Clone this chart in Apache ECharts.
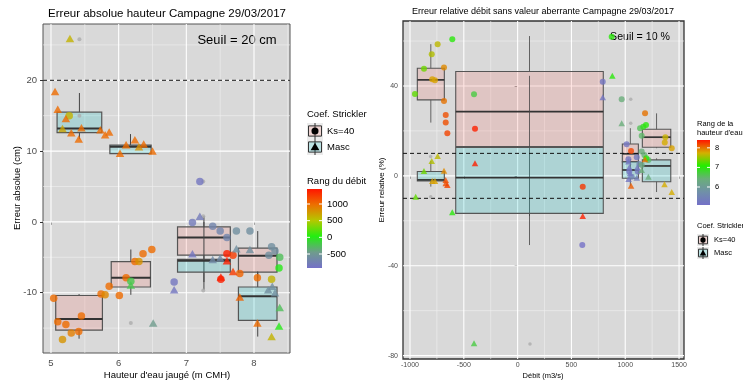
<!DOCTYPE html>
<html>
<head>
<meta charset="utf-8">
<script src="https://cdn.jsdelivr.net/npm/echarts@6/dist/echarts.min.js"></script>
<style>
  html, body { margin: 0; padding: 0; background: #ffffff; }
  #chart { width: 743px; height: 382px; }
</style>
</head>
<body>
<div id="chart"></div>
<script>
// ---------- Left panel: water height (m CMH) vs absolute error (cm), colour = discharge rank ----------
const hTicks = [5, 6, 7, 8];
const hMinor = [5.5, 6.5, 7.5, 8.5];
const errAbsTicks = [20, 10, 0, -10];
const errAbsMinor = [25, 15, 5, -5, -15];
const errAbsThreshold = [20];

// boxes: [xmin, xmax, lower whisker, q1, median, q3, upper whisker]
const hBoxKs40 = [
  [5.07, 5.76, -16.5, -15.3, -13.7, -10.4, -10.2],
  [5.89, 6.47, -10.3, -9.2, -7.9, -5.6, -3.9],
  [6.87, 7.65, -8.5, -4.7, -2.2, -0.7, 0.0],
  [7.77, 8.34, -7.9, -7.1, -4.8, -3.7, -1.3]
];
const hBoxMasc = [
  [5.09, 5.75, 11.7, 12.6, 13.2, 15.5, 18.2],
  [5.87, 6.48, 9.6, 9.65, 10.6, 10.85, 12.4],
  [6.87, 7.65, -9.6, -7.1, -5.5, -5.3, 0.8],
  [7.77, 8.34, -16.2, -13.9, -10.5, -9.2, -7.0]
];

// points: [height, error, discharge rank]
const hPtsKs40 = [
  [5.04, -10.8, 1000], [5.10, -14.1, 1000], [5.22, -14.5, 1000], [5.17, -16.6, 790],
  [5.30, -15.7, 900], [5.41, -15.5, 1000], [5.45, -13.3, 1000], [5.74, -10.2, 1000],
  [5.80, -10.3, 850], [5.86, -9.1, 1000], [6.01, -10.4, 1000], [6.11, -7.9, 1000],
  [6.18, -8.4, -200], [6.24, -5.6, 1000], [6.30, -5.6, 800], [6.36, -4.5, 1000],
  [6.49, -3.9, 1000], [5.27, 15.0, 620], [7.20, 5.7, -850], [6.82, -8.5, -850],
  [7.09, -0.1, -800], [7.39, -0.6, -700], [7.50, -1.3, -700], [7.60, -2.2, -700],
  [7.74, -1.3, -600], [7.94, -1.3, -600], [7.60, -4.5, 1400], [7.69, -4.7, 1250],
  [7.51, -8.1, 1400], [7.79, -7.3, 1050], [8.05, -7.9, 1000], [8.26, -8.1, 620],
  [8.26, -3.5, -600], [8.31, -4.1, -600], [8.22, -4.7, -600], [8.38, -5.0, -250],
  [8.37, -6.5, 0]
];
const hPtsMasc = [
  [5.28, 25.9, 620], [5.06, 18.4, 1000], [5.10, 15.9, 1000], [5.22, 14.6, 1000],
  [5.17, 13.2, 700], [5.30, 12.6, 1000], [5.45, 13.3, 1000], [5.41, 11.7, 1000],
  [5.73, 13.0, 1000], [5.80, 12.3, 1000], [5.86, 12.7, 1000], [6.02, 9.7, 1000],
  [6.11, 10.9, 1000], [6.24, 11.6, 1000], [6.30, 10.6, 800], [6.37, 11.0, 1000],
  [6.50, 10.0, 1000], [6.18, -8.9, -200], [6.51, -14.3, -450], [6.82, -9.6, -850],
  [7.20, 0.8, -800], [7.09, -4.5, -850], [7.39, -5.3, -650], [7.50, -5.1, -650],
  [7.60, -5.5, 1400], [7.69, -7.0, 1250], [7.51, -7.8, 1400], [7.74, -3.8, -600],
  [7.94, -3.9, -600], [8.21, -9.6, -600], [8.31, -10.0, -600], [8.27, -9.1, -600],
  [7.79, -10.6, 1050], [8.38, -12.1, -250], [8.05, -14.3, 1000], [8.37, -14.7, 0],
  [8.26, -16.2, 620]
];
// points without a discharge rank
const hPtsNA = [[5.42, 25.8], [5.42, 15.0], [6.18, -14.3], [7.25, 5.7], [7.25, 0.8], [7.25, -9.7]];

// ---------- Right panel: discharge (m3/s) vs relative error (%), colour = water height rank ----------
const qTicks = [-1000, -500, 0, 500, 1000, 1500];
const qMinor = [-750, -250, 250, 750, 1250];
const errRelTicks = [40, 0, -40, -80];
const errRelMinor = [60, 20, -20, -60];
const errRelThreshold = [10, -10];

const qBoxKs40 = [
  [-932, -681, 23.7, 33.8, 42.7, 47.9, 58.6],
  [-575, 796, -30.8, 13.0, 28.6, 46.4, 62.2],
  [973, 1122, 1.9, 6.2, 9.8, 14.2, 21.2],
  [1159, 1423, 12.3, 12.7, 17.2, 20.7, 27.8]
];
const qBoxMasc = [
  [-932, -681, -4.8, -2.3, -1.8, 1.9, 6.6],
  [-575, 796, -17.9, -16.7, -0.8, 12.6, 44.5],
  [973, 1122, -4.4, -1.1, 2.6, 6.4, 7.4],
  [1159, 1423, -7.2, -2.6, 4.4, 7.1, 7.8]
];

// points: [discharge, error, water height rank]
const qPtsKs40 = [
  [-607, 60.8, 7.0], [-743, 58.6, 7.65], [-798, 54.1, 7.6], [-870, 47.6, 7.35],
  [-684, 48.2, 7.9], [-793, 43.0, 7.8], [-768, 42.5, 7.8], [-954, 36.4, 7.3],
  [-684, 33.3, 8.0], [-668, 27.1, 8.15], [-668, 23.7, 8.15], [-653, 19.0, 8.2],
  [-405, 36.3, 6.7], [-396, 20.9, 8.35], [605, -4.8, 8.25], [601, -30.8, 5.1],
  [791, 41.9, 5.2], [874, 61.9, 7.0], [967, 34.1, 6.4], [1184, 27.8, 8.0],
  [1138, 21.2, 6.6], [1168, 21.9, 6.9], [1193, 22.6, 7.0], [1153, 17.8, 6.5],
  [1373, 17.2, 7.7], [1367, 14.8, 7.75], [1432, 12.3, 7.8], [1013, 14.1, 5.2],
  [1054, 11.1, 8.2], [1029, 7.4, 5.2], [1107, 8.3, 5.3], [1131, 5.3, 5.6],
  [1038, 1.9, 5.2], [1116, 1.9, 5.3], [1060, -0.4, 5.5], [1153, 10.8, 6.4],
  [1178, 9.3, 6.4], [1215, 7.1, 6.5], [1153, 4.8, 6.3], [1195, 7.8, 7.0]
];
const qPtsMasc = [
  [-743, 8.8, 7.65], [-798, 6.6, 7.6], [-870, 2.2, 7.35], [-684, 2.3, 7.9],
  [-793, -2.3, 7.8], [-768, -2.3, 7.8], [-947, -9.3, 7.3], [-668, -1.8, 8.15],
  [-668, -3.3, 8.15], [-653, -4.1, 8.2], [-607, -16.2, 7.0], [-405, -74.5, 6.7],
  [-396, 5.6, 8.35], [605, -17.9, 8.35], [791, 35.0, 5.2], [880, 44.5, 7.0],
  [967, 23.4, 6.4], [1054, -4.4, 8.1], [1365, -3.7, 7.75], [1432, -7.2, 7.75],
  [1029, 6.4, 5.2], [1038, 3.8, 5.2], [1112, 3.8, 5.3], [1045, 1.1, 5.2],
  [1107, -0.8, 5.4], [1031, -1.4, 5.2], [1153, 2.6, 6.4], [1215, -0.4, 6.4],
  [1184, 7.4, 8.0]
];
const qPtsNA = [[-808, 8.6], [-808, -9.3], [115, -74.8], [1051, 34.1], [1051, 23.4]];

// colour scales (evenly spaced stops from min to max)
const debitScale = { min: -920, max: 1450, labels: [1000, 500, 0, -500],
  colors: ['#7470c8', '#6f9c8c', '#22ee11', '#b4c800', '#ec7000', '#ff1500'] };
const hauteurScale = { min: 5.08, max: 8.4, labels: [8, 7, 6],
  colors: ['#7470c8', '#7090a8', '#6aae7a', '#22ee00', '#d4b000', '#ff1500'] };

// ---------- drawing ----------
const FONT = 'Liberation Sans, Arial, sans-serif';
const hRange = [4.882, 8.532], errAbsRange = [-18.52, 27.95];
const qRange = [-1065, 1546], errRelRange = [-81.5, 68.9];

const KS_FILL = 'rgba(248,118,109,0.2)';
const MASC_FILL = 'rgba(0,191,196,0.2)';

const vLines = (vals, yr) => vals.map(v => [v, yr[0], v, yr[1]]);
const hLines = (vals, xr) => vals.map(v => [xr[0], v, xr[1], v]);

function segSeries(gi, data, style, z) {
  return {
    type: 'custom', xAxisIndex: gi, yAxisIndex: gi, z: z, silent: true,
    encode: { x: [0, 2], y: [1, 3] }, data: data,
    renderItem: (p, api) => {
      const a = api.coord([api.value(0), api.value(1)]);
      const b = api.coord([api.value(2), api.value(3)]);
      return { type: 'line', shape: { x1: a[0], y1: a[1], x2: b[0], y2: b[1] },
        style: Object.assign({ fill: null }, style) };
    }
  };
}

function boxSeries(gi, data, fill, z, lw) {
  return {
    type: 'custom', xAxisIndex: gi, yAxisIndex: gi, z: z, silent: true,
    encode: { x: [0, 1], y: [2, 3, 4, 5, 6] }, data: data,
    renderItem: (p, api) => {
      const v = i => api.value(i);
      const x0 = v(0), x1 = v(1), xc = (x0 + x1) / 2;
      const lo = api.coord([xc, v(2)]), q1 = api.coord([xc, v(3)]);
      const q3 = api.coord([xc, v(5)]), hi = api.coord([xc, v(6)]);
      const a = api.coord([x0, v(5)]), b = api.coord([x1, v(3)]);
      const m0 = api.coord([x0, v(4)]), m1 = api.coord([x1, v(4)]);
      const line = (P, Q, w, c) => ({ type: 'line',
        shape: { x1: P[0], y1: P[1], x2: Q[0], y2: Q[1] }, style: { stroke: c, lineWidth: w } });
      return { type: 'group', children: [
        line(lo, q1, lw.whisker, '#444'),
        line(q3, hi, lw.whisker, '#444'),
        { type: 'rect', shape: { x: a[0], y: a[1], width: b[0] - a[0], height: b[1] - a[1] },
          style: { fill: fill, stroke: '#555', lineWidth: lw.box } },
        line(m0, m1, lw.median, '#333')
      ] };
    }
  };
}

function ptSeries(gi, data, symbol, size, z, color) {
  const s = { type: 'scatter', xAxisIndex: gi, yAxisIndex: gi, z: z, symbol: symbol,
    symbolSize: size, data: data, silent: true };
  if (color) s.itemStyle = { color: color };
  return s;
}

const majorStyle = { stroke: '#ffffff', lineWidth: 1.1 };
const minorStyle = { stroke: '#f0f0f0', lineWidth: 0.6 };
const dashStyle = { stroke: '#111', lineWidth: 1, lineDash: [4, 3] };

const series = [
  // left grid lines
  segSeries(0, vLines(hMinor, errAbsRange).concat(hLines(errAbsMinor, hRange)), minorStyle, 1),
  segSeries(0, vLines(hTicks, errAbsRange).concat(hLines(errAbsTicks, hRange)), majorStyle, 1),
  boxSeries(0, hBoxKs40, KS_FILL, 2, { whisker: 1, box: 1.2, median: 2 }),
  boxSeries(0, hBoxMasc, MASC_FILL, 2, { whisker: 1, box: 1.2, median: 2 }),
  segSeries(0, hLines(errAbsThreshold, hRange), dashStyle, 3),
  ptSeries(0, hPtsNA, 'circle', 4, 3, '#ababab'),
  ptSeries(0, hPtsKs40, 'circle', 7.5, 4),       // 6
  ptSeries(0, hPtsMasc, 'triangle', [8.5, 7.5], 4), // 7
  // right grid lines
  segSeries(1, vLines(qMinor, errRelRange).concat(hLines(errRelMinor, qRange)), minorStyle, 1),
  segSeries(1, vLines(qTicks, errRelRange).concat(hLines(errRelTicks, qRange)), majorStyle, 1),
  boxSeries(1, qBoxKs40, KS_FILL, 2, { whisker: 0.8, box: 1.1, median: 1.7 }),
  boxSeries(1, qBoxMasc, MASC_FILL, 2, { whisker: 0.8, box: 1.1, median: 1.7 }),
  segSeries(1, hLines(errRelThreshold, qRange), dashStyle, 3),
  ptSeries(1, qPtsNA, 'circle', 3.5, 3, '#ababab'),
  ptSeries(1, qPtsKs40, 'circle', 6, 4),          // 14
  ptSeries(1, qPtsMasc, 'triangle', [6.5, 6], 4)  // 15
];

function axisPair(gi, range, ticks, fontSize, margin) {
  return {
    gridIndex: gi, type: 'value', min: range[0], max: range[1],
    axisLine: { show: false }, splitLine: { show: false },
    axisTick: { show: true, length: 3, customValues: ticks, lineStyle: { color: '#333', width: 1 } },
    axisLabel: { customValues: ticks, color: '#4d4d4d', fontSize: fontSize, fontFamily: FONT,
      margin: margin, formatter: v => String(v) }
  };
}

// ---------- legends, titles ----------
const graphics = [];
function txt(x, y, text, size, opts) {
  graphics.push(Object.assign({ type: 'text', x: x, y: y, silent: true,
    style: Object.assign({ text: text, fontSize: size, fontFamily: FONT, fill: '#000',
      textAlign: 'left', textVerticalAlign: 'middle' }, (opts && opts.style) || {}) },
    opts && opts.rotation ? { rotation: opts.rotation } : {}));
}
function center(x, y, text, size, color) { txt(x, y, text, size, { style: { textAlign: 'center', fill: color || '#000' } }); }

center(167, 14, 'Erreur absolue hauteur Campagne 29/03/2017', 11.5);
center(543, 12, 'Erreur relative débit sans valeur aberrante Campagne 29/03/2017', 9);
center(237, 40, 'Seuil = 20 cm', 13);
center(640, 37, 'Seuil = 10 %', 10.6);
center(167, 375, "Hauteur d'eau jaugé (m CMH)", 9.5);
center(543, 376, 'Débit (m3/s)', 7.5);
txt(17, 188, 'Erreur absolue (cm)', 9.5, { rotation: Math.PI / 2, style: { textAlign: 'center' } });
txt(382, 190, 'Erreur relative (%)', 8, { rotation: Math.PI / 2, style: { textAlign: 'center' } });

function legendKey(x, y, s, fill, shape, labelX, label, fs) {
  graphics.push({ type: 'rect', silent: true, shape: { x: x, y: y - s / 2, width: s, height: s },
    style: { fill: '#ebebeb' } });
  graphics.push({ type: 'line', silent: true, shape: { x1: x + s / 2, y1: y - s / 2, x2: x + s / 2, y2: y + s / 2 },
    style: { stroke: '#333', lineWidth: 1 } });
  graphics.push({ type: 'rect', silent: true, shape: { x: x + 1.5, y: y - s * 0.32, width: s - 3, height: s * 0.64 },
    style: { fill: fill, stroke: '#333', lineWidth: 1 } });
  const r = s * 0.22;
  if (shape === 'circle') {
    graphics.push({ type: 'circle', silent: true, shape: { cx: x + s / 2, cy: y, r: r }, style: { fill: '#000' } });
  } else {
    const cx = x + s / 2;
    graphics.push({ type: 'polygon', silent: true,
      shape: { points: [[cx, y - r * 1.2], [cx + r * 1.25, y + r * 0.95], [cx - r * 1.25, y + r * 0.95]] },
      style: { fill: '#000' } });
  }
  txt(labelX, y, label, fs);
}

function colorBar(x, top, w, h, scale, labelX, fs) {
  const n = scale.colors.length;
  graphics.push({ type: 'rect', silent: true, shape: { x: x, y: top, width: w, height: h },
    style: { fill: { type: 'linear', x: 0, y: 1, x2: 0, y2: 0,
      colorStops: scale.colors.map((c, i) => ({ offset: i / (n - 1), color: c })) } } });
  scale.labels.forEach(v => {
    const y = top + h * (scale.max - v) / (scale.max - scale.min);
    graphics.push({ type: 'line', silent: true, shape: { x1: x, y1: y, x2: x + 3, y2: y }, style: { stroke: '#fff', lineWidth: 1 } });
    graphics.push({ type: 'line', silent: true, shape: { x1: x + w - 3, y1: y, x2: x + w, y2: y }, style: { stroke: '#fff', lineWidth: 1 } });
    txt(labelX, y, String(v), fs);
  });
}

// left legend
txt(307, 114, 'Coef. Strickler', 9.5);
legendKey(307, 131, 16, KS_FILL, 'circle', 327, 'Ks=40', 9.5);
legendKey(307, 147, 16, MASC_FILL, 'triangle', 327, 'Masc', 9.5);
txt(307, 181, 'Rang du débit', 9.5);
colorBar(307, 189, 15, 79, debitScale, 327, 9.5);

// right legend
txt(697, 124, 'Rang de la', 7.5);
txt(697, 133, "hauteur d'eau", 7.5);
colorBar(697, 140, 13, 65, hauteurScale, 715, 7.5);
txt(697, 226, 'Coef. Strickler', 7.5);
legendKey(697, 240, 12, KS_FILL, 'circle', 714, 'Ks=40', 7.5);
legendKey(697, 253, 12, MASC_FILL, 'triangle', 714, 'Masc', 7.5);

const chart = echarts.init(document.getElementById('chart'), null, { renderer: 'canvas' });
chart.setOption({
  animation: false,
  backgroundColor: '#ffffff',
  grid: [
    { left: 43, top: 24, width: 247, height: 329, show: true, backgroundColor: '#d9d9d9', borderColor: '#555', borderWidth: 1 },
    { left: 403, top: 21, width: 281, height: 338, show: true, backgroundColor: '#d9d9d9', borderColor: '#333', borderWidth: 1.3 }
  ],
  xAxis: [axisPair(0, hRange, hTicks, 9.5, 5), axisPair(1, qRange, qTicks, 7, 3)],
  yAxis: [axisPair(0, errAbsRange, errAbsTicks, 9.5, 6), axisPair(1, errRelRange, errRelTicks, 7, 5)],
  visualMap: [
    { type: 'continuous', show: false, seriesIndex: [6, 7], dimension: 2,
      min: debitScale.min, max: debitScale.max, inRange: { color: debitScale.colors } },
    { type: 'continuous', show: false, seriesIndex: [14, 15], dimension: 2,
      min: hauteurScale.min, max: hauteurScale.max, inRange: { color: hauteurScale.colors } }
  ],
  series: series,
  graphic: graphics
});
</script>
</body>
</html>
